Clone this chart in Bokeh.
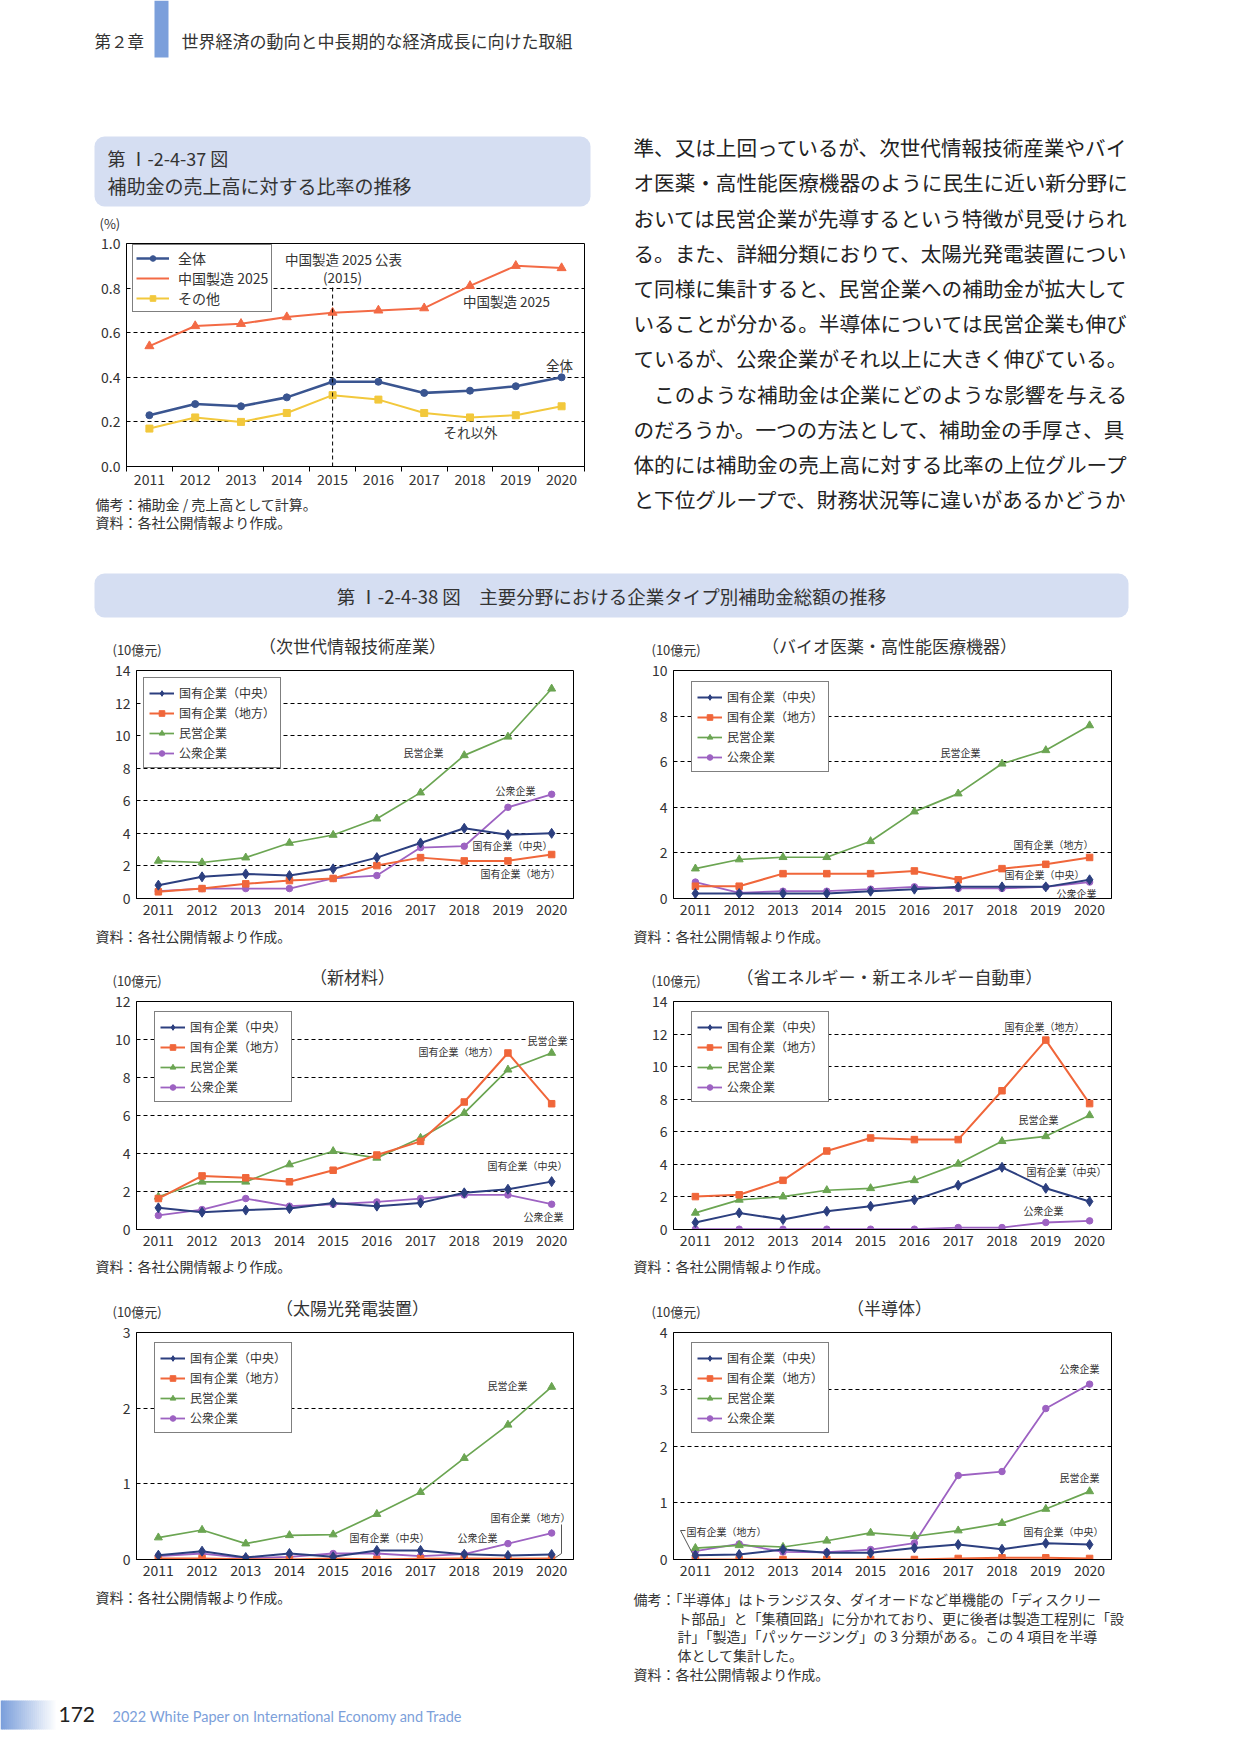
from bokeh.plotting import figure
from bokeh.models import (Range1d, FixedTicker, Legend, LegendItem, Label, Arrow,
                          BoxAnnotation, NumeralTickFormatter)
from bokeh.layouts import column, row
from bokeh.embed import file_html
from bokeh.resources import INLINE
from bokeh.core.properties import value

FONT = "Noto Sans CJK JP"
TXT = "#333333"
PW = 1236  # page width used by the layout

# ---------------- data ----------------
years = [2011, 2012, 2013, 2014, 2015, 2016, 2017, 2018, 2019, 2020]

# Fig 37: subsidy / sales (%)
r37_all = [0.23, 0.28, 0.27, 0.31, 0.38, 0.38, 0.33, 0.34, 0.36, 0.40]
r37_mic = [0.54, 0.63, 0.64, 0.67, 0.69, 0.70, 0.71, 0.81, 0.90, 0.89]
r37_other = [0.17, 0.22, 0.20, 0.24, 0.32, 0.30, 0.24, 0.22, 0.23, 0.27]
r37_names = ["全体", "中国製造 2025", "その他"]
r37_ticks = [0.0, 0.2, 0.4, 0.6, 0.8, 1.0]

series_names = ["国有企業（中央）", "国有企業（地方）", "民営企業", "公衆企業"]

it_central = [0.82, 1.33, 1.51, 1.41, 1.82, 2.51, 3.41, 4.31, 3.92, 4.00]
it_local = [0.41, 0.61, 0.90, 1.10, 1.23, 2.02, 2.51, 2.31, 2.31, 2.70]
it_private = [2.31, 2.21, 2.51, 3.41, 3.90, 4.90, 6.50, 8.79, 9.93, 12.88]
it_public = [0.45, 0.61, 0.61, 0.61, 1.23, 1.41, 3.13, 3.21, 5.60, 6.40]

bio_central = [0.22, 0.22, 0.22, 0.22, 0.32, 0.41, 0.51, 0.51, 0.51, 0.82]
bio_local = [0.54, 0.54, 1.09, 1.09, 1.09, 1.21, 0.82, 1.31, 1.50, 1.80]
bio_private = [1.31, 1.71, 1.81, 1.81, 2.51, 3.81, 4.60, 5.91, 6.50, 7.59]
bio_public = [0.72, 0.25, 0.32, 0.32, 0.41, 0.51, 0.44, 0.44, 0.51, 0.72]

mat_central = [1.14, 0.91, 1.02, 1.10, 1.40, 1.23, 1.40, 1.93, 2.12, 2.52]
mat_local = [1.63, 2.82, 2.72, 2.51, 3.12, 3.92, 4.64, 6.71, 9.29, 6.62]
mat_private = [1.72, 2.51, 2.51, 3.42, 4.12, 3.77, 4.82, 6.13, 8.41, 9.29]
mat_public = [0.74, 1.05, 1.63, 1.23, 1.33, 1.45, 1.63, 1.82, 1.82, 1.33]

nev_central = [0.43, 1.02, 0.61, 1.12, 1.43, 1.82, 2.72, 3.82, 2.53, 1.72]
nev_local = [2.02, 2.13, 3.02, 4.82, 5.62, 5.52, 5.52, 8.52, 11.63, 7.73]
nev_private = [1.02, 1.82, 2.02, 2.41, 2.53, 3.02, 4.03, 5.42, 5.72, 7.01]
nev_public = [0.02, 0.02, 0.02, 0.02, 0.02, 0.02, 0.12, 0.12, 0.43, 0.53]

pv_central = [0.057, 0.11, 0.026, 0.079, 0.035, 0.12, 0.12, 0.07, 0.053, 0.066]
pv_local = [0.013, 0.013, 0.004, 0.0, 0.013, 0.0, 0.01, 0.013, 0.01, 0.013]
pv_private = [0.29, 0.39, 0.21, 0.32, 0.33, 0.60, 0.89, 1.34, 1.78, 2.28]
pv_public = [0.044, 0.079, 0.018, 0.035, 0.079, 0.079, 0.044, 0.07, 0.21, 0.35]

semi_central = [0.076, 0.088, 0.175, 0.117, 0.117, 0.204, 0.263, 0.18, 0.286, 0.263]
semi_local = [0.0, 0.0, 0.0, 0.0, 0.0, 0.0, 0.018, 0.03, 0.03, 0.018]
semi_private = [0.20, 0.25, 0.22, 0.33, 0.47, 0.41, 0.51, 0.64, 0.89, 1.20]
semi_public = [0.146, 0.274, 0.134, 0.128, 0.175, 0.29, 1.48, 1.55, 2.66, 3.09]

paragraph = [
    "準、又は上回っているが、次世代情報技術産業やバイ",
    "オ医薬・高性能医療機器のように民生に近い新分野に",
    "おいては民営企業が先導するという特徴が見受けられ",
    "る。また、詳細分類におりて、太陽光発電装置につい",
    "て同様に集計すると、民営企業への補助金が拡大して",
    "いることが分かる。半導体については民営企業も伸び",
    "ているが、公衆企業がそれ以上に大きく伸びている。",
    "　このような補助金は企業にどのような影響を与える",
    "のだろうか。一つの方法として、補助金の手厚さ、具",
    "体的には補助金の売上高に対する比率の上位グループ",
    "と下位グループで、財務状況等に違いがあるかどうか",
]

C_CEN = "#2c3f7f"
C_LOC = "#f0663a"
C_PRI = "#6ba552"
C_PUB = "#9d62c2"
BOX = "#d5def2"
BLUE = "#7b9fdb"
SOURCE = "資料：各社公開情報より作成。"


# ---------------- helpers ----------------
def filler(x0, x1, y0, y1):
    p = figure(width=x1 - x0, height=y1 - y0, x_range=Range1d(x0, x1),
               y_range=Range1d(y1, y0), output_backend="svg", toolbar_location=None,
               x_axis_location=None, y_axis_location=None, min_border=0)
    p.grid.visible = False
    p.outline_line_color = None
    p.background_fill_color = "white"
    p.border_fill_color = "white"
    return p


def txt(p, x, y, s, size, align="left", color=TXT, font=FONT):
    p.text(x=[x], y=[y], text=[s], text_font=value(font), text_font_size=size,
           text_align=align, text_baseline="middle", text_color=color)


def rbox(p, l, r, t, b):
    p.add_layout(BoxAnnotation(left=l, right=r, top=t, bottom=b, fill_color=BOX,
                               fill_alpha=1, line_color=None, border_radius=10,
                               level="underlay"))


def lab(p, fr, px, py, s, size="10px", align="center", bg=None, color=TXT):
    fx0, fy0, fx1, fy1 = fr
    kw = {}
    if bg:
        kw = dict(background_fill_color=bg, background_fill_alpha=1)
    p.add_layout(Label(x=px - fx0, y=fy1 - py, x_units="screen", y_units="screen",
                       text=s, text_font=FONT, text_font_size=size, text_align=align,
                       text_baseline="middle", text_color=color, **kw))


def leader(p, fr, pts):
    fx0, fy0, fx1, fy1 = fr
    for (ax, ay), (bx, by) in zip(pts[:-1], pts[1:]):
        p.add_layout(Arrow(x_start=ax - fx0, y_start=fy1 - ay, x_end=bx - fx0,
                           y_end=fy1 - by, start_units="screen", end_units="screen",
                           end=None, line_color="#555555", line_width=1))


def base_chart(x0, x1, y0, y1, fr, ymax, yticks):
    fx0, fy0, fx1, fy1 = fr
    p = figure(width=x1 - x0, height=y1 - y0, x_range=Range1d(2010.5, 2020.5),
               y_range=Range1d(0, ymax), output_backend="svg", toolbar_location=None,
               min_border_left=fx0 - x0, min_border_right=x1 - fx1,
               min_border_top=fy0 - y0, min_border_bottom=y1 - fy1)
    p.background_fill_color = "white"
    p.border_fill_color = "white"
    p.outline_line_color = "black"
    p.outline_line_width = 1
    p.outline_line_alpha = 1
    p.xgrid.grid_line_color = None
    p.ygrid.ticker = FixedTicker(ticks=[t for t in yticks if 0 < t < ymax])
    p.ygrid.grid_line_color = "black"
    p.ygrid.grid_line_dash = "4 3"
    p.ygrid.grid_line_width = 1
    p.yaxis.ticker = FixedTicker(ticks=yticks)
    for ax in (p.xaxis[0], p.yaxis[0]):
        ax.axis_line_color = "black"
        ax.major_tick_line_color = None
        ax.minor_tick_line_color = None
        ax.major_tick_out = 0
        ax.major_tick_in = 0
        ax.major_label_text_font = FONT
        ax.major_label_text_font_size = "14px"
        ax.major_label_text_color = TXT
    p.yaxis.major_label_standoff = 6
    p.xaxis.major_label_standoff = 5
    return p


def style_legend(leg, loc, size="12px"):
    leg.location = loc
    leg.border_line_color = "black"
    leg.border_line_width = 1
    leg.background_fill_color = "white"
    leg.background_fill_alpha = 1
    leg.label_text_font = FONT
    leg.label_text_font_size = size
    leg.label_text_color = TXT
    leg.glyph_width = 25
    leg.glyph_height = 14
    leg.label_standoff = 5
    leg.label_height = 19
    leg.spacing = 1
    leg.padding = 5
    leg.margin = 0


def sector_chart(x0, x1, y0, y1, fr, ymax, yticks, central, local, private, public,
                 legend_loc, notes, leaders=None):
    p = base_chart(x0, x1, y0, y1, fr, ymax, yticks)
    p.xaxis.ticker = FixedTicker(ticks=years)
    specs = [
        (public, C_PUB, "circle", 6.5, 1.8),
        (private, C_PRI, "triangle", 8, 1.7),
        (local, C_LOC, "square", 6.5, 2),
        (central, C_CEN, "diamond", 10, 2),
    ]
    rends = []
    for vals, col, mk, sz, lw in specs:
        ln = p.line(years, vals, line_color=col, line_width=lw)
        sc = p.scatter(years, vals, marker=mk, size=sz, fill_color=col, line_color=col)
        rends.append([ln, sc])
    rends = rends[::-1]
    items = [LegendItem(label=n, renderers=r) for n, r in zip(series_names, rends)]
    leg = Legend(items=items)
    style_legend(leg, legend_loc)
    p.add_layout(leg)
    for (px, py, s, bg) in notes:
        lab(p, fr, px, py, s, bg=bg)
    if leaders:
        leader(p, fr, leaders)
    return p


# ---------------- top band ----------------
F_top = filler(0, PW, 0, 234)
txt(F_top, 94, 40, "第２章", "16.5px")
F_top.quad(left=[154], right=[168], top=[0], bottom=[57], fill_color=BLUE, line_color=None)
txt(F_top, 181, 40, "世界経済の動向と中長期的な経済成長に向けた取組", "17px")
rbox(F_top, 94, 590, 136, 206)
txt(F_top, 107, 157, "第 Ⅰ-2-4-37 図", "18px")
txt(F_top, 107, 185, "補助金の売上高に対する比率の推移", "19px")
txt(F_top, 99, 223, "(%)", "13px")
for i, line in enumerate(paragraph[:3]):
    txt(F_top, 633, 146.6 + i * 35.2, line, "20.6px", color="#222222")

# ---------------- fig 37 chart ----------------
fr37 = (126, 243, 584, 466)
C37 = base_chart(0, 600, 234, 492, fr37, 1.0, r37_ticks)
C37.xaxis.ticker = FixedTicker(ticks=years, minor_ticks=[y - 0.5 for y in years] + [2020.5])
C37.xaxis.minor_tick_line_color = "black"
C37.xaxis.minor_tick_out = 5
C37.xaxis.minor_tick_in = 0
C37.xaxis.major_label_standoff = 2
C37.yaxis.formatter = NumeralTickFormatter(format="0.0")
C37.add_layout(Arrow(x_start=2015, y_start=0, x_end=2015, y_end=0.82, end=None,
                     line_color="black", line_width=1, line_dash="4 3"))
l_oth = C37.line(years, r37_other, line_color="#f2c83c", line_width=2)
s_oth = C37.scatter(years, r37_other, marker="square", size=7, fill_color="#f2c83c", line_color="#f2c83c")
l_mic = C37.line(years, r37_mic, line_color="#f36a45", line_width=2)
s_mic = C37.scatter(years, r37_mic, marker="triangle", size=9, fill_color="#f36a45", line_color="#f36a45")
l_all = C37.line(years, r37_all, line_color="#3a5590", line_width=2.6)
s_all = C37.scatter(years, r37_all, marker="circle", size=7, fill_color="#3a5590", line_color="#3a5590")
d_mic = C37.scatter(x=[], y=[], marker="diamond", size=12, fill_color="#f36a45", line_color="#f36a45")
leg37 = Legend(items=[LegendItem(label=r37_names[0], renderers=[l_all, s_all]),
                      LegendItem(label=r37_names[1], renderers=[l_mic, d_mic]),
                      LegendItem(label=r37_names[2], renderers=[l_oth, s_oth])])
style_legend(leg37, (6, 154), size="14px")
leg37.glyph_width = 33
leg37.label_standoff = 9
leg37.label_height = 18
leg37.spacing = 0
leg37.padding = 3
C37.add_layout(leg37)
lab(C37, fr37, 343, 258, "中国製造 2025 公表", size="13.5px", bg="white")
lab(C37, fr37, 342, 276, "(2015)", size="13.5px", bg="white")
lab(C37, fr37, 506, 300, "中国製造 2025", size="13.5px")
lab(C37, fr37, 559, 364, "全体", size="13.5px")
lab(C37, fr37, 470, 431, "それ以外", size="13.5px")

F_n37 = filler(0, 600, 492, 540)
txt(F_n37, 95, 503, "備考：補助金 / 売上高として計算。", "14px")
txt(F_n37, 95, 521, SOURCE, "14px")

F_para = filler(600, PW, 234, 540)
for i, line in enumerate(paragraph[3:]):
    txt(F_para, 633, 146.6 + (i + 3) * 35.2, line, "20.6px", color="#222222")

top_block = row(column(row(C37), F_n37), F_para)

# ---------------- fig 38 title band ----------------
F_t38 = filler(0, PW, 540, 660)
rbox(F_t38, 94, 1128, 573, 617)
txt(F_t38, 611, 595, "第 Ⅰ-2-4-38 図　主要分野における企業タイプ別補助金総額の推移", "18.5px", align="center")
txt(F_t38, 352, 645, "（次世代情報技術産業）", "17px", align="center")
txt(F_t38, 889, 645, "（バイオ医薬・高性能医療機器）", "17px", align="center")
txt(F_t38, 112, 649, "(10億元)", "13px")
txt(F_t38, 651, 649, "(10億元)", "13px")

# ---------------- row 1 ----------------
frA = (136, 670, 573, 898)
CA = sector_chart(0, 620, 660, 925, frA, 14, [0, 2, 4, 6, 8, 10, 12, 14],
                  it_central, it_local, it_private, it_public, (7, 130),
                  [(423, 752, "民営企業", None), (515, 790, "公衆企業", None),
                   (512, 845, "国有企業（中央）", None), (520, 873, "国有企業（地方）", None)])
frB = (673, 670, 1111, 898)
CB = sector_chart(620, PW, 660, 925, frB, 10, [0, 2, 4, 6, 8, 10],
                  bio_central, bio_local, bio_private, bio_public, (18, 126),
                  [(960, 752, "民営企業", None), (1053, 844, "国有企業（地方）", None),
                   (1044, 874, "国有企業（中央）", None), (1076, 893, "公衆企業", None)])

F_b2 = filler(0, PW, 925, 992)
txt(F_b2, 95, 935, SOURCE, "14px")
txt(F_b2, 633, 935, SOURCE, "14px")
txt(F_b2, 352, 976, "（新材料）", "17px", align="center")
txt(F_b2, 889, 976, "（省エネルギー・新エネルギー自動車）", "17px", align="center")
txt(F_b2, 112, 980, "(10億元)", "13px")
txt(F_b2, 651, 980, "(10億元)", "13px")

# ---------------- row 2 ----------------
frC = (136, 1001, 573, 1229)
CC = sector_chart(0, 620, 992, 1255, frC, 12, [0, 2, 4, 6, 8, 10, 12],
                  mat_central, mat_local, mat_private, mat_public, (18, 127),
                  [(547, 1040, "民営企業", "white"), (458, 1051, "国有企業（地方）", None),
                   (527, 1165, "国有企業（中央）", None), (543, 1216, "公衆企業", None)])
frD = (673, 1001, 1111, 1229)
CD = sector_chart(620, PW, 992, 1255, frD, 14, [0, 2, 4, 6, 8, 10, 12, 14],
                  nev_central, nev_local, nev_private, nev_public, (18, 127),
                  [(1044, 1026, "国有企業（地方）", None), (1038, 1119, "民営企業", None),
                   (1066, 1171, "国有企業（中央）", None), (1043, 1210, "公衆企業", None)])

F_b3 = filler(0, PW, 1255, 1322)
txt(F_b3, 95, 1265, SOURCE, "14px")
txt(F_b3, 633, 1265, SOURCE, "14px")
txt(F_b3, 352, 1307, "（太陽光発電装置）", "17px", align="center")
txt(F_b3, 889, 1307, "（半導体）", "17px", align="center")
txt(F_b3, 112, 1311, "(10億元)", "13px")
txt(F_b3, 651, 1311, "(10億元)", "13px")

# ---------------- row 3 ----------------
frE = (136, 1332, 573, 1559)
CE = sector_chart(0, 620, 1322, 1585, frE, 3, [0, 1, 2, 3],
                  pv_central, pv_local, pv_private, pv_public, (18, 126),
                  [(507, 1385, "民営企業", None), (530, 1517, "国有企業（地方）", None),
                   (389, 1537, "国有企業（中央）", None), (477, 1537, "公衆企業", None)],
                  leaders=[(561, 1524), (561, 1553), (555, 1557)])
frF = (673, 1332, 1111, 1559)
CF = sector_chart(620, PW, 1322, 1585, frF, 4, [0, 1, 2, 3, 4],
                  semi_central, semi_local, semi_private, semi_public, (18, 126),
                  [(1079, 1368, "公衆企業", None), (1079, 1477, "民営企業", None),
                   (1063, 1531, "国有企業（中央）", None), (726, 1531, "国有企業（地方）", None)],
                  leaders=[(685, 1530), (680, 1530), (693, 1555)])

# ---------------- end band ----------------
F_end = filler(0, PW, 1585, 1750)
txt(F_end, 95, 1596, SOURCE, "14px")
semi_note = [
    (633, 1598, "備考：「半導体」はトランジスタ、ダイオードなど単機能の「ディスクリー"),
    (677, 1617, "ト部品」と「集積回路」に分かれており、更に後者は製造工程別に「設"),
    (677, 1635, "計」「製造」「パッケージング」の 3 分類がある。この 4 項目を半導"),
    (677, 1654, "体として集計した。"),
    (633, 1673, SOURCE),
]
for x, y, s in semi_note:
    txt(F_end, x, y, s, "14px")

# footer gradient bar
n = 28
c0 = (0x7b, 0x9f, 0xdb)
for i in range(n):
    t = i / (n - 1)
    col = "#%02x%02x%02x" % tuple(int(round(c + (255 - c) * t)) for c in c0)
    xl = i * 57 / n
    xr = (i + 1) * 57 / n + 0.6
    F_end.quad(left=[xl], right=[xr], top=[1700], bottom=[1729], fill_color=col, line_color=None)
txt(F_end, 58, 1714, "172", "21px", color="#222222", font="Lato")
txt(F_end, 112, 1716, "2022 White Paper on International Economy and Trade", "14.5px",
    color="#7c9fda", font="Lato")

page = column(F_top, top_block, F_t38, row(CA, CB), F_b2, row(CC, CD), F_b3, row(CE, CF), F_end)

open("out.html", "w").write(file_html(page, INLINE))
